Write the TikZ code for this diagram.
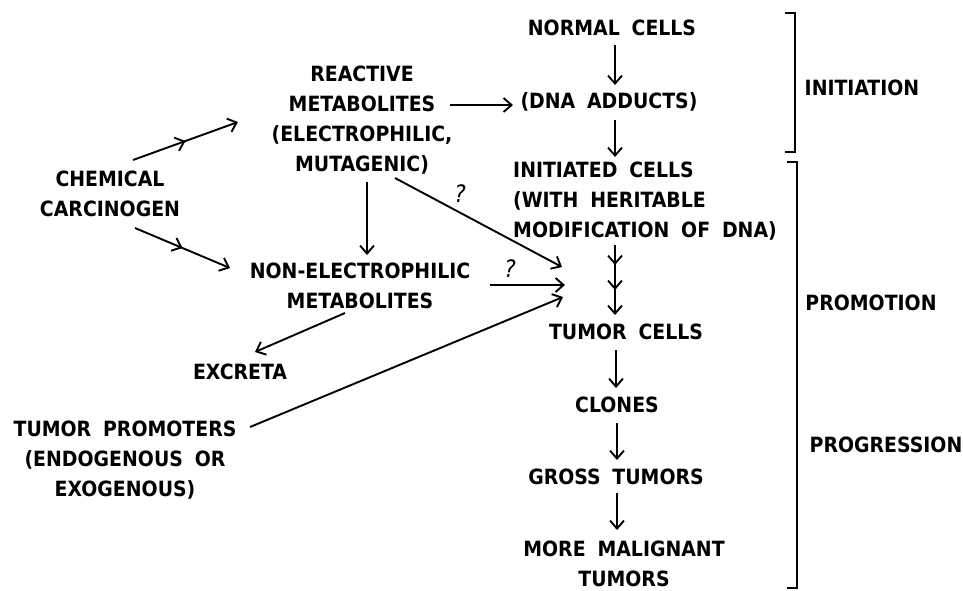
\documentclass[tikz,border=0pt]{standalone}
\usepackage{fontspec}
\newfontfamily\lettering[WordSpace=1.8]{DejaVu Sans Condensed}
\usetikzlibrary{arrows.meta, positioning, calc, decorations.markings}

\begin{document}
\begin{tikzpicture}[
    x=1pt, y=-1pt,
    >={Straight Barb[length=8pt,width=14pt]},
    line width=1.9pt,
    txt/.style={font=\lettering\bfseries\fontsize{21}{30}\selectfont,
                inner sep=0pt, align=center},
    query/.style={font=\lettering\itshape\fontsize{24}{30}\selectfont,
                  inner sep=0pt},
    midarrow/.style={postaction={decorate}, decoration={markings,
        mark=at position 0.5 with {\arrow{>}}}},
    tripleheads/.style={postaction={decorate}, decoration={markings,
        mark=at position 20pt with {\arrow{>}},
        mark=at position 45pt with {\arrow{>}}}}
  ]
  \useasboundingbox (0,0) rectangle (963,590);

  % left side
  \node[txt] (chem) at (110,194) {CHEMICAL\\CARCINOGEN};
  \node[txt] (react) at (362,120)
    {REACTIVE\\METABOLITES\\(ELECTROPHILIC,\\MUTAGENIC)};
  \node[txt] (nonel) at (360,286) {NON-ELECTROPHILIC\\METABOLITES};
  \node[txt] (excreta) at (240,372) {EXCRETA};
  \node[txt] (promo) at (125,460)
    {TUMOR PROMOTERS\\(ENDOGENOUS OR\\EXOGENOUS)};

  % main column
  \node[txt] (normal) at (612,28) {NORMAL CELLS};
  \node[txt] (dna) at (609,102) {(DNA ADDUCTS)};
  \node[txt, align=left] (init) at (645,201)
    {INITIATED CELLS\\(WITH HERITABLE\\MODIFICATION OF DNA)};
  \node[txt] (tumor) at (626,332) {TUMOR CELLS};
  \node[txt] (clones) at (617,405) {CLONES};
  \node[txt] (gross) at (616,477) {GROSS TUMORS};
  \node[txt] (malig) at (624,564) {MORE MALIGNANT\\TUMORS};

  % stages
  \node[txt] (initiation) at (862,88) {INITIATION};
  \node[txt] (promotion) at (871,303) {PROMOTION};
  \node[txt] (progression) at (886,445) {PROGRESSION};
  \draw (785,13) -- (795,13) -- (795,152) -- (785,152);
  \draw (787,162) -- (797,162) -- (797,588) -- (787,588);

  \coordinate (meet1) at (562,267);
  \coordinate (meet2) at (565,285);
  \coordinate (meet3) at (563,297);

  \draw[->, midarrow] ([shift={(23,-34)}]chem.center)
    -- ([shift={(-124,2)}]react.center);
  \draw[->, midarrow] ([shift={(25,34)}]chem.center)
    -- ([shift={(-130,-18)}]nonel.center);
  \draw[->] ([shift={(88,-15)}]react.center) -- ([shift={(-96,3)}]dna.center);
  \draw[->] ([shift={(5,62)}]react.center) -- ([shift={(7,-31)}]nonel.center);
  \draw[->] ([shift={(33,58)}]react.center) -- (meet1);
  \node[query] (q1) at (460,194) {?};
  \draw[->] ([shift={(130,-1)}]nonel.center) -- (meet2);
  \node[query] (q2) at (510,269) {?};
  \draw[->] ([shift={(-15,27)}]nonel.center)
    -- ([shift={(15,-20)}]excreta.center);
  \draw[->] ([shift={(125,-33)}]promo.center) -- (meet3);

  \draw[->] ([shift={(3,17)}]normal.center) -- ([shift={(6,-17)}]dna.center);
  \draw[->] ([shift={(6,18)}]dna.center) -- ([shift={(-30,-44)}]init.center);
  \draw[->, tripleheads] ([shift={(-30,44)}]init.center)
    -- ([shift={(-11,-17)}]tumor.center);
  \draw[->] ([shift={(-10,18)}]tumor.center) -- ([shift={(-1,-17)}]clones.center);
  \draw[->] ([shift={(0,18)}]clones.center) -- ([shift={(1,-17)}]gross.center);
  \draw[->] ([shift={(1,16)}]gross.center) -- ([shift={(-7,-34)}]malig.center);
\end{tikzpicture}
\end{document}
